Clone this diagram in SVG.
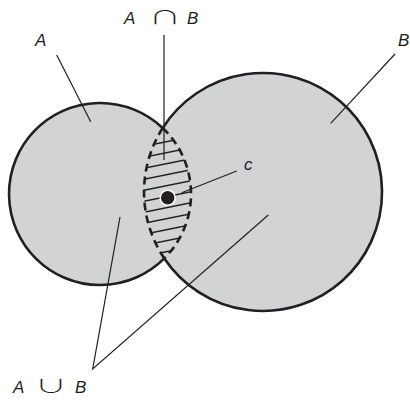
<svg xmlns="http://www.w3.org/2000/svg" width="410" height="400" viewBox="0 0 410 400">
<style>
.fill{fill:#d1d3d4;stroke:none}
.solid{fill:none;stroke:#231f20;stroke-width:2.6}
.dash{fill:none;stroke:#231f20;stroke-width:2.6;stroke-dasharray:8 5}
.hatch{stroke:#231f20;stroke-width:1.4}
.lead{stroke:#231f20;stroke-width:1.2;fill:none}
.lbl{font-family:"Liberation Sans",Arial,sans-serif;font-style:italic;font-size:17px;fill:#231f20}
.sym{font-family:"Noto Sans CJK JP","Noto Sans CJK SC",sans-serif;font-weight:300;font-size:22px;fill:#231f20}
</style>
<defs>
<clipPath id="lens"><path d="M162.7 128 A91 91 0 0 1 164.3 258.4 A119 119 0 0 1 162.7 128 Z"/></clipPath>
</defs>
<g id="setA"><circle class="fill" cx="100" cy="194" r="91"/></g>
<g id="setB"><circle class="fill" cx="263" cy="192" r="119"/></g>
<g id="intersection">
<g clip-path="url(#lens)" class="hatch">
<line x1="135" y1="148" x2="195" y2="136"/>
<line x1="135" y1="159" x2="195" y2="147"/>
<line x1="135" y1="170" x2="195" y2="158"/>
<line x1="135" y1="181" x2="195" y2="169"/>
<line x1="135" y1="192" x2="195" y2="180"/>
<line x1="135" y1="203" x2="195" y2="191"/>
<line x1="135" y1="214" x2="195" y2="202"/>
<line x1="135" y1="225" x2="195" y2="213"/>
<line x1="135" y1="236" x2="195" y2="224"/>
<line x1="135" y1="247" x2="195" y2="235"/>
<line x1="135" y1="258" x2="195" y2="246"/>
</g>
<path class="dash" d="M162.7 128 A91 91 0 0 1 164.3 258.4"/>
<path class="dash" d="M162.7 128 A119 119 0 0 0 164.3 258.4"/>
</g>
<g id="outlines">
<path class="solid" d="M162.7 128 A91 91 0 1 0 164.3 258.4"/>
<path class="solid" d="M162.7 128 A119 119 0 1 1 164.3 258.4"/>
</g>
<g id="point-c"><circle cx="167.7" cy="197.7" r="7.5" fill="#231f20" stroke="#ffffff" stroke-width="1.5"/></g>
<g id="connectors" class="lead">
<line x1="164" y1="35" x2="164" y2="160"/>
<line x1="56.7" y1="55" x2="90.7" y2="121.7"/>
<line x1="395" y1="54" x2="330.7" y2="123.3"/>
<line x1="181.7" y1="192.7" x2="236.7" y2="171"/>
<polyline points="120,217 92.7,369 268.3,215"/>
</g>
<g id="labels">
<text class="lbl" x="124" y="24">A</text>
<text class="sym" transform="translate(149,24) scale(1.45,0.85)">∩</text>
<text class="lbl" x="187" y="24">B</text>
<text class="lbl" x="35" y="46">A</text>
<text class="lbl" x="398" y="46">B</text>
<text class="lbl" x="244" y="170">c</text>
<text class="lbl" x="13" y="393">A</text>
<text class="sym" transform="translate(35,393) scale(1.45,0.85)">∪</text>
<text class="lbl" x="75" y="393">B</text>
</g>
</svg>
